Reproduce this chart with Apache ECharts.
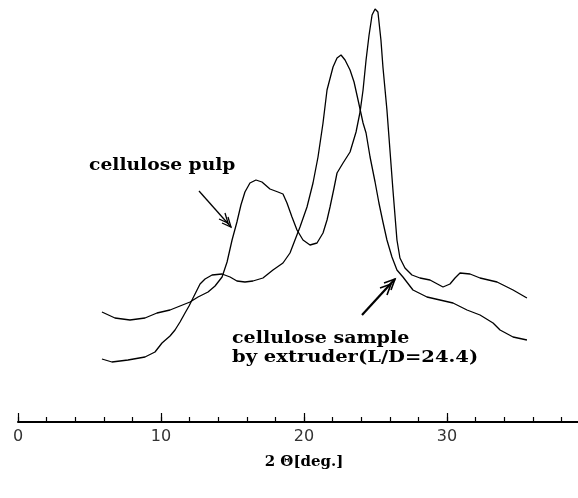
<!DOCTYPE html>
<html>
<head>
<meta charset="utf-8">
<script src="https://cdn.jsdelivr.net/npm/echarts@6/dist/echarts.min.js"></script>
<style>
html,body{margin:0;padding:0;background:#fff;}
#chart{width:578px;height:498px;}
</style>
</head>
<body>
<div id="chart"></div>
<script>
// ---- data (2θ in degrees, intensity in arbitrary units) ----
var pulpTheta = [5.87,6.78,7.83,8.88,9.72,10.63,11.33,12.03,12.59,13.29,13.78,14.27,14.62,14.97,15.31,15.59,15.87,16.22,16.64,17.06,17.62,18.18,18.53,18.81,19.16,19.51,19.93,20.42,20.91,21.33,21.61,21.82,22.10,22.31,22.73,23.22,23.64,23.92,24.13,24.34,24.55,24.76,24.97,25.17,25.38,25.52,25.80,26.01,26.22,26.50,26.71,27.06,27.55,28.11,28.81,29.72,30.21,30.56,30.91,31.61,32.31,33.50,34.62,35.59];
var pulpIntensity = [110,104,102,104,109,112,116,120,125,130,136,145,160,182,200,217,230,239,242,240,233,230,228,219,205,192,182,177,179,189,202,215,234,249,259,270,290,310,332,362,387,407,413,410,382,355,312,272,232,182,164,154,147,144,142,135,138,144,149,148,144,140,132,124];
var extTheta = [5.87,6.57,7.69,8.88,9.58,10.07,10.63,10.98,11.33,11.68,11.96,12.17,12.45,12.73,13.08,13.57,14.27,14.83,15.31,15.87,16.43,17.13,17.83,18.53,19.02,19.37,19.72,20.21,20.63,20.98,21.33,21.61,22.03,22.31,22.59,22.87,23.22,23.50,23.78,24.13,24.34,24.62,24.97,25.24,25.52,25.80,26.15,26.50,26.92,27.62,28.60,29.51,30.42,31.40,32.31,33.22,33.71,34.62,35.59];
var extIntensity = [63,60,62,65,70,79,86,92,100,109,116,122,130,138,143,147,148,145,141,140,141,144,152,159,169,182,195,215,239,265,299,332,355,364,367,362,352,340,322,299,289,265,240,219,200,182,165,152,145,132,125,122,119,112,107,99,92,85,82];
var xTickLabels = [0, 10, 20, 30];
var pulpLabel = 'cellulose pulp';
var extLabel1 = 'cellulose sample';
var extLabel2 = 'by extruder(L/D=24.4)';
var xAxisTitle = '2 \u0398[deg.]';

function pairs(xs, ys){ return xs.map(function(x,i){ return [x, ys[i]]; }); }

var chart = echarts.init(document.getElementById('chart'), null, {renderer:'canvas'});
var serif = '"DejaVu Serif", "Liberation Serif", serif';
var arrowStyle = {stroke:'#000', lineWidth:1.3, fill:null};

var option = {
  backgroundColor:'#fff',
  animation:false,
  grid:{left:18, top:0, width:572, height:422, containLabel:false, outerBoundsMode:'none'},
  xAxis:[{
    type:'value', min:0, max:40, interval:2, position:'bottom',
    axisLine:{show:true, onZero:false, lineStyle:{color:'#000', width:2}},
    axisTick:{show:true, inside:true, length:5, lineStyle:{color:'#000', width:1.2}},
    splitLine:{show:false},
    axisLabel:{show:true, margin:7, color:'#333', fontFamily:'"DejaVu Sans", sans-serif', fontSize:16,
      formatter:function(v){ return xTickLabels.indexOf(v) >= 0 ? String(v) : ''; }},
    name:xAxisTitle, nameLocation:'middle', nameGap:33,
    nameTextStyle:{fontFamily:serif, fontWeight:'bold', fontSize:15, color:'#000'}
  },{
    type:'value', min:0, max:40, interval:10, position:'bottom',
    axisLine:{show:false, onZero:false},
    axisTick:{show:true, inside:true, length:9, lineStyle:{color:'#000', width:1.2}},
    axisLabel:{show:false}, splitLine:{show:false}
  }],
  yAxis:{type:'value', min:0, max:422, show:false},
  series:[{
    name:pulpLabel, type:'line', xAxisIndex:0, showSymbol:false, smooth:false,
    lineStyle:{color:'#000', width:1.3}, data:pairs(pulpTheta, pulpIntensity)
  },{
    name:extLabel1, type:'line', xAxisIndex:0, showSymbol:false, smooth:false,
    lineStyle:{color:'#000', width:1.3}, data:pairs(extTheta, extIntensity)
  }],
  graphic:[
    {type:'text', x:89, y:157, scaleX:1.1, style:{text:pulpLabel, font:'bold 17px ' + serif, fill:'#000'}},
    {type:'text', x:232, y:330, scaleX:1.12, style:{text:extLabel1, font:'bold 17px ' + serif, fill:'#000'}},
    {type:'text', x:232, y:349, scaleX:1.15, style:{text:extLabel2, font:'bold 17px ' + serif, fill:'#000'}},
    {type:'polyline', shape:{points:[[199,191],[231,227]]}, style:arrowStyle},
    {type:'polyline', shape:{points:[[228,217],[231,227],[222,223]]}, style:arrowStyle},
    {type:'polyline', shape:{points:[[225,213],[228,223],[219,219]]}, style:arrowStyle},
    {type:'polyline', shape:{points:[[362,315],[395,279]]}, style:{stroke:'#000', lineWidth:2.2, fill:null}},
    {type:'polyline', shape:{points:[[384,283],[395,279],[391,290]]}, style:{stroke:'#000', lineWidth:1.6, fill:null}},
    {type:'polyline', shape:{points:[[380,288],[391,284],[387,295]]}, style:{stroke:'#000', lineWidth:1.6, fill:null}}
  ]
};
chart.setOption(option);
</script>
</body>
</html>
